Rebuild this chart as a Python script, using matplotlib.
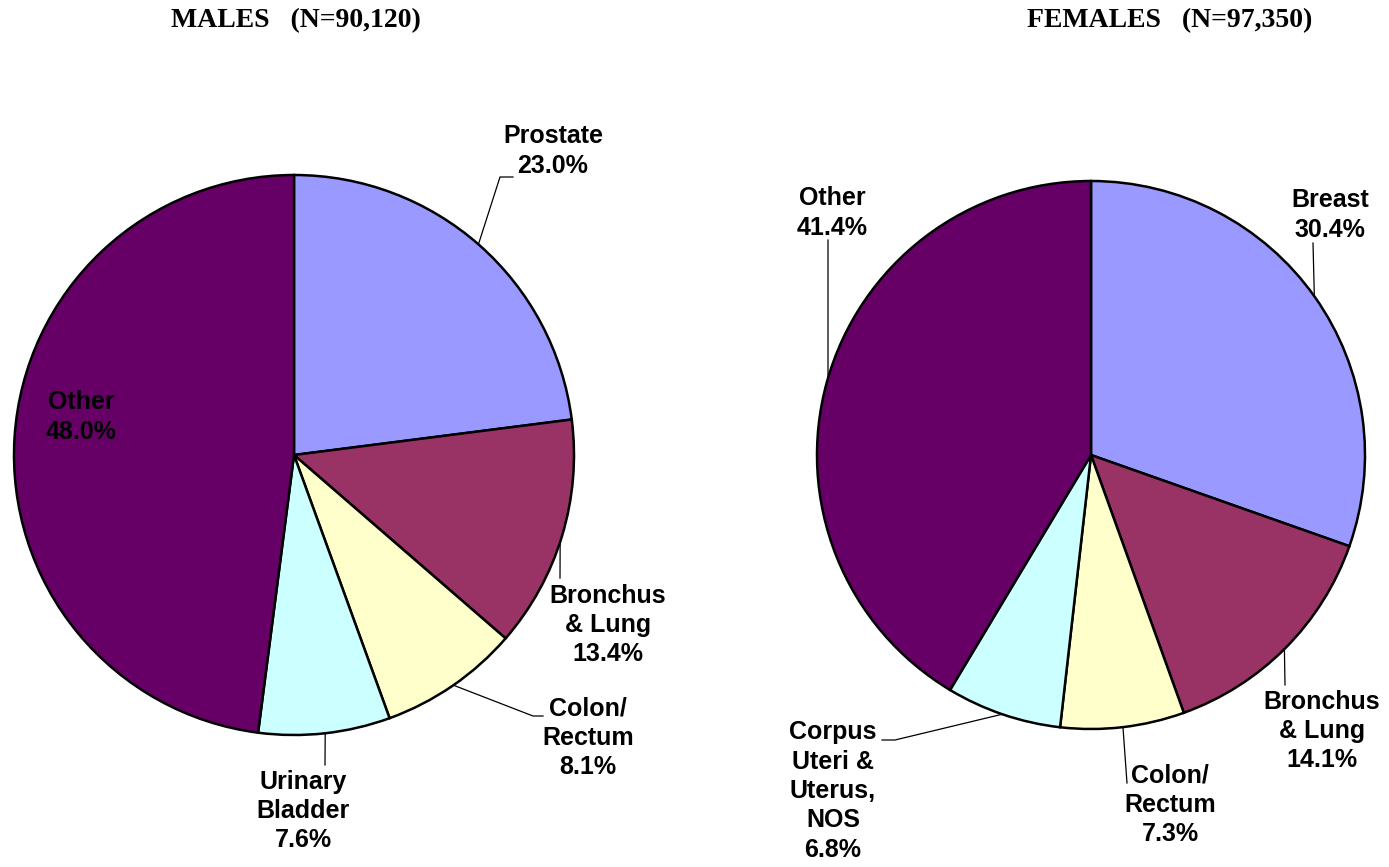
import matplotlib

matplotlib.use("Agg")
import matplotlib.pyplot as plt
import numpy as np

W, H = 1389, 867

COLORS = ["#9999FF", "#993366", "#FFFFCC", "#CCFFFF", "#660066"]

male_title = "MALES   (N=90,120)"
male_names = ["Prostate", "Bronchus\n& Lung", "Colon/\nRectum", "Urinary\nBladder", "Other"]
male_values = [23.0, 13.4, 8.1, 7.6, 48.0]

female_title = "FEMALES   (N=97,350)"
female_names = ["Breast", "Bronchus\n& Lung", "Colon/\nRectum", "Corpus\nUteri &\nUterus,\nNOS", "Other"]
female_values = [30.4, 14.1, 7.3, 6.8, 41.4]

# layout (pixel space, y measured from the top)
male_pie = dict(center=(294, 455), radius=280, title_x=296)
female_pie = dict(center=(1091, 455), radius=274, title_x=1170)

# label centre, leader anchor angle on the rim, leader elbow points
male_labels = [
    dict(text=(553, 151), angle=48.8, path=[(500, 177), (513, 177)]),
    dict(text=(608, 625), angle=-18.1, path=[(560, 578)]),
    dict(text=(588, 738), angle=-55.3, path=[(533, 716), (543, 716)]),
    dict(text=(303, 811), angle=-83.6, path=[(325, 765)]),
    dict(text=(81, 417), angle=None, path=[]),
]
female_labels = [
    dict(text=(1330, 215), angle=35.4, path=[(1313, 243)]),
    dict(text=(1322, 731), angle=-45.1, path=[(1285, 685)]),
    dict(text=(1170, 805), angle=-83.3, path=[(1127, 783)]),
    dict(text=(833, 791), angle=-108.9, path=[(895, 740), (882, 740)]),
    dict(text=(832, 213), angle=163.7, path=[(828, 240)]),
]


def flip(y):
    return H - y


def draw_pie(ax, title, names, values, pie, labels):
    cx, cy = pie["center"]
    r = pie["radius"]
    ax.pie(
        values,
        colors=COLORS,
        startangle=90,
        counterclock=False,
        center=(cx, flip(cy)),
        radius=r,
        wedgeprops=dict(edgecolor="black", linewidth=1.8),
    )
    ax.text(pie["title_x"], flip(21), title, ha="center", va="center",
            fontsize=20, fontweight="bold", family="Liberation Serif")

    for name, value, lab in zip(names, values, labels):
        tx, ty = lab["text"]
        ax.text(tx, flip(ty), f"{name}\n{value:.1f}%", ha="center", va="center",
                multialignment="center", fontsize=18, fontweight="bold",
                family="Liberation Sans", linespacing=1.28)
        if lab["angle"] is None:
            continue
        a = np.radians(lab["angle"])
        xs = [cx + r * np.cos(a)] + [p[0] for p in lab["path"]]
        ys = [flip(cy) + r * np.sin(a)] + [flip(p[1]) for p in lab["path"]]
        ax.plot(xs, ys, color="black", linewidth=0.9)


def main():
    fig = plt.figure(figsize=(W / 100, H / 100), dpi=100)
    ax = fig.add_axes([0, 0, 1, 1])
    draw_pie(ax, male_title, male_names, male_values, male_pie, male_labels)
    draw_pie(ax, female_title, female_names, female_values, female_pie, female_labels)
    ax.set_xlim(0, W)
    ax.set_ylim(0, H)
    ax.set_aspect("equal")
    ax.axis("off")
    fig.savefig("out.png", dpi=100, facecolor="white")


if __name__ == "__main__":
    main()
